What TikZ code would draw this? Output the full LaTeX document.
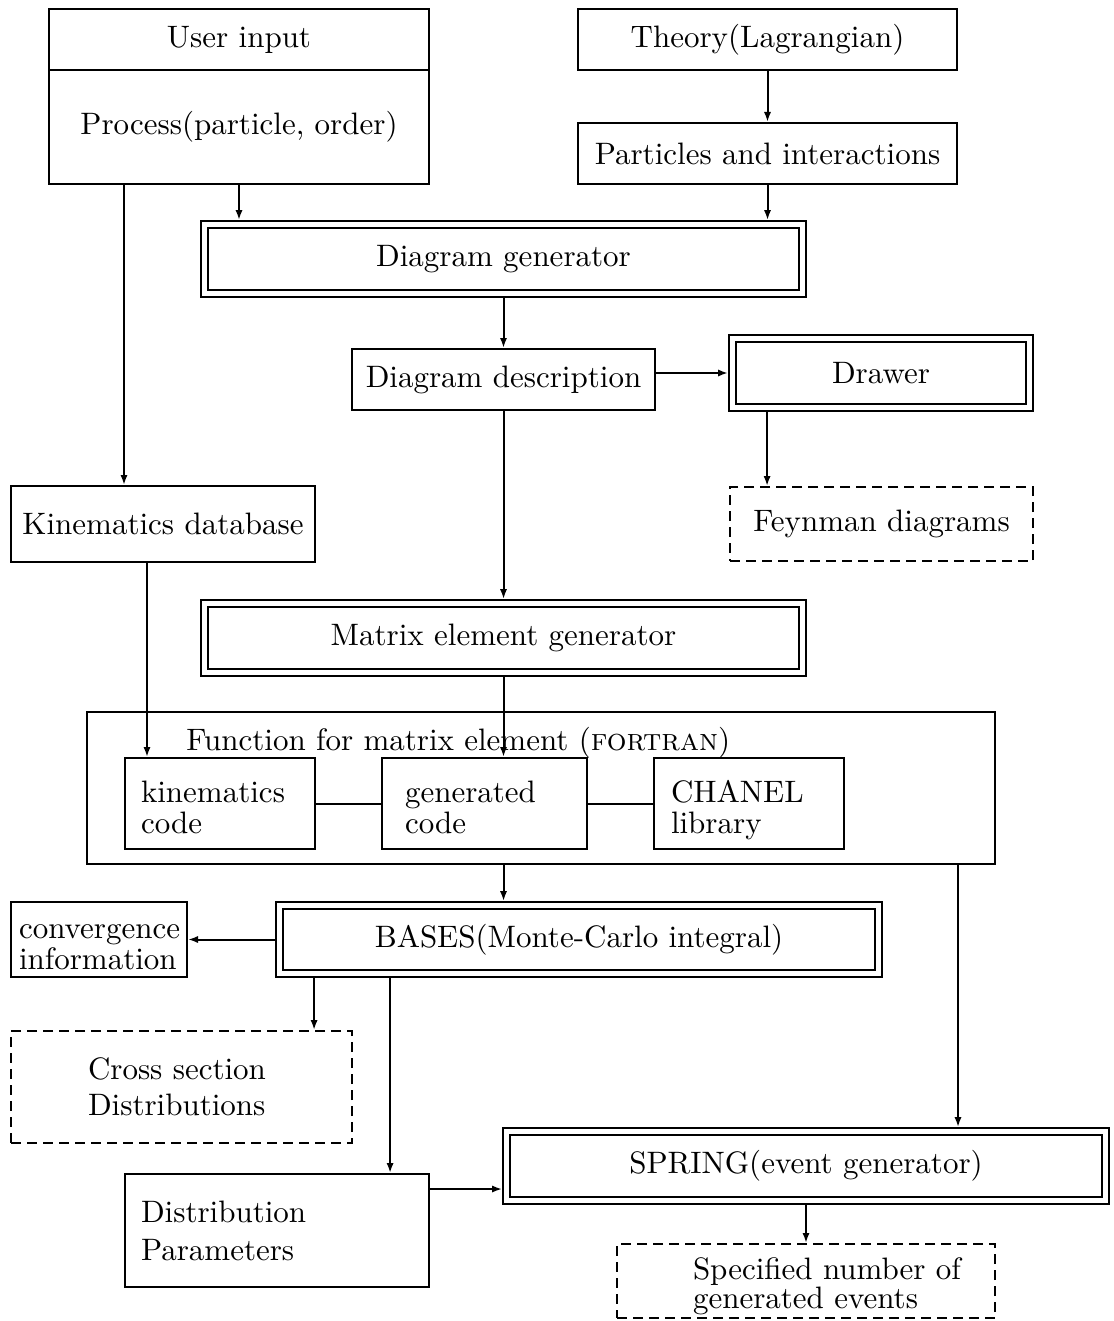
\documentclass[tikz,border=0pt]{standalone}
\usepackage{fontspec}
\setmainfont{lmroman10-regular.otf}[SmallCapsFont=lmromancaps10-regular.otf]
\usepackage{tikz}
\usetikzlibrary{arrows.meta}

\begin{document}
\begin{tikzpicture}[
            x=0.5pt, y=-0.5pt,
            font=\fontsize{15.5}{15.5}\selectfont,
            every node/.style={inner sep=0pt},
            block/.style={rectangle, draw, line width=1pt, align=center},
            lblock/.style 2 args={block, align=left, text width=#1, execute at begin node={\leftskip=#2\relax}},
            dblock/.style={rectangle, draw, line width=0.9pt, double, double distance=2.6pt, outer sep=2.2pt, align=center},
            dashed box/.style={dash pattern=on 5pt off 3pt},
            arrow/.style={-{Latex[length=5pt,width=3.6pt]}, line width=1pt},
            link/.style={line width=1pt}
        ]
        \useasboundingbox (0,0) rectangle (1113,1321);
        % top row
        \node[block, minimum width=190pt, minimum height=30.5pt] (userin) at (239,39.5) {User input};
        \node[block, minimum width=190pt, minimum height=57pt] (process) at (239,127) {Process(particle, order)};
        \node[block, minimum width=189.5pt, minimum height=30.5pt] (theory) at (767.5,39.5) {Theory(Lagrangian)};
        \node[block, minimum width=189.5pt, minimum height=30.5pt] (particles) at (767.5,153.5) {Particles and interactions};
        % generators
        \node[dblock, minimum width=299pt, minimum height=34.5pt] (diaggen) at (503.5,259) {Diagram generator};
        \node[block, minimum width=151.5pt, minimum height=30.5pt] (diagdesc) at (503.5,379.5) {Diagram description};
        \node[dblock, minimum width=148.5pt, minimum height=34.5pt] (drawer) at (881,373) {Drawer};
        \node[block, dashed box, minimum width=151.5pt, minimum height=37pt] (feynman) at (881.5,524) {Feynman diagrams};
        \node[block, minimum width=152pt, minimum height=38pt] (kindb) at (163,524) {Kinematics database};
        \node[dblock, minimum width=299pt, minimum height=34.5pt] (matgen) at (503.5,638) {Matrix element generator};
        % function for matrix element
        \node[block, minimum width=454pt, minimum height=76pt] (func) at (541,788) {};
        \node[anchor=west] (functitle) at (186,743) {Function for matrix element (\textsc{fortran})};
        \node[lblock={95pt}{8pt}, text height=22pt, text depth=23.5pt] (kincode) at (220,803.5) {kinematics\\code};
        \node[lblock={102.5pt}{11.5pt}, text height=22pt, text depth=23.5pt] (gencode) at (484.5,803.5) {generated\\code};
        \node[lblock={95pt}{8.5pt}, text height=22pt, text depth=23.5pt] (chanel) at (749,803.5) {CHANEL\\library};
        % integration and event generation
        \node[dblock, minimum width=299.5pt, minimum height=34pt] (bases) at (579,939.5) {BASES(Monte-Carlo integral)};
        \node[lblock={88pt}{4pt}, text height=18pt, text depth=19.5pt] (conv) at (99,939.5) {convergence\\information};
        \node[lblock={170.5pt}{38.5pt}, dashed box, minimum height=56pt] (cross) at (181.5,1087) {Cross section\\[2.5pt]Distributions};
        \node[lblock={152pt}{8pt}, minimum height=56.5pt] (distpar) at (277,1230.5) {Distribution\\[3.5pt]Parameters};
        \node[dblock, minimum width=299.5pt, minimum height=34.5pt] (spring) at (806,1166) {SPRING(event generator)};
        \node[lblock={189pt}{38pt}, dashed box, text height=17.5pt, text depth=19.5pt] (specified) at (806,1281) {Specified number of\\[-1pt]generated events};
        % connectors
        \draw[arrow] (process.south) -- (process.south |- diaggen.north);
        \draw[arrow] ([xshift=38pt]process.south west) coordinate (pk) -- (pk |- kindb.north);
        \draw[arrow] (theory) -- (particles);
        \draw[arrow] (particles.south) -- (particles.south |- diaggen.north);
        \draw[arrow] (diaggen) -- (diagdesc);
        \draw[arrow] (diagdesc.east |- drawer) -- (drawer.west);
        \draw[arrow] ([xshift=19.5pt]drawer.south west) coordinate (df) -- (df |- feynman.north);
        \draw[arrow] (diagdesc) -- (matgen);
        \draw[arrow] ([xshift=68.5pt]kindb.south west) coordinate (kk) -- (kk |- kincode.north);
        \draw[arrow] (matgen.south) -- (matgen.south |- gencode.north);
        \draw[link] (kincode) -- (gencode);
        \draw[link] (gencode) -- (chanel);
        \draw[arrow] (func.south -| matgen.south) -- (bases.north -| matgen.south);
        \draw[arrow] ([xshift=-19pt]func.south east) coordinate (fs) -- (fs |- spring.north);
        \draw[arrow] (bases) -- (conv);
        \draw[arrow] ([xshift=19.5pt]bases.south west) coordinate (bc) -- (bc |- cross.north);
        \draw[arrow] ([xshift=57.5pt]bases.south west) coordinate (bd) -- (bd |- distpar.north);
        \draw[arrow] ([yshift=-8pt]distpar.north east) coordinate (ds) -- (ds -| spring.west);
        \draw[arrow] (spring) -- (specified);
        \end{tikzpicture}
\end{document}
